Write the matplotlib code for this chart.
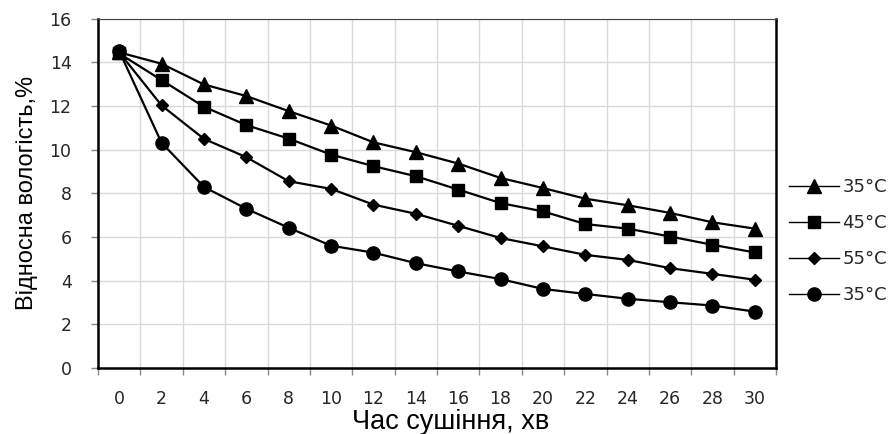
import matplotlib
matplotlib.use("Agg")
import matplotlib.pyplot as plt
import numpy as np

time_labels = ["0", "2", "4", "6", "8", "10", "12", "14", "16", "18", "20", "22", "24", "26", "28", "30"]
series_names = ["35°C", "45°C", "55°C", "35°C"]
s_tri = [14.45, 13.93, 12.98, 12.45, 11.76, 11.1, 10.33, 9.88, 9.36, 8.70, 8.24, 7.75, 7.45, 7.10, 6.67, 6.38]
s_sq = [14.4, 13.18, 11.96, 11.12, 10.5, 9.77, 9.24, 8.78, 8.17, 7.55, 7.17, 6.59, 6.38, 6.02, 5.64, 5.29]
s_dia = [14.45, 12.02, 10.49, 9.65, 8.55, 8.2, 7.48, 7.06, 6.51, 5.95, 5.57, 5.18, 4.95, 4.57, 4.31, 4.04]
s_circ = [14.51, 10.31, 8.29, 7.29, 6.42, 5.6, 5.28, 4.8, 4.42, 4.07, 3.62, 3.39, 3.17, 3.01, 2.86, 2.58]
y_ticks = [0, 2, 4, 6, 8, 10, 12, 14, 16]

W, H = 893, 434
fig = plt.figure(figsize=(W / 100, H / 100), dpi=100)
ax = fig.add_axes([98 / W, (H - 368) / H, 678 / W, 349.5 / H])

x = np.arange(len(time_labels))
styles = [("^", 9.5), ("s", 8), ("D", 6.5), ("o", 9.5)]
data = [s_tri, s_sq, s_dia, s_circ]
for vals, (m, ms), name in zip(data, styles, series_names):
    ax.plot(x, vals, color="black", lw=1.6, marker=m, markersize=ms,
            markerfacecolor="black", markeredgecolor="black", label=name)

ax.set_xlim(-0.5, len(time_labels) - 0.5)
ax.set_ylim(0, 16)
ax.set_yticks(y_ticks)
ax.set_xticks(x)
ax.set_xticklabels(time_labels)
ax.set_xticks(np.arange(-0.5, len(time_labels)), minor=True)

for lab in ax.get_xticklabels() + ax.get_yticklabels():
    lab.set_fontfamily("DejaVu Sans")
    lab.set_fontsize(12.5)
    lab.set_color("#262626")

ax.tick_params(axis="x", which="major", length=0, pad=16)
ax.tick_params(axis="x", which="minor", length=5, color="#888888", width=1)
ax.tick_params(axis="y", which="major", length=5, color="#888888", width=1, pad=14)

ax.grid(True, axis="y", which="major", color="#d9d9d9", lw=1)
ax.grid(True, axis="x", which="minor", color="#d9d9d9", lw=1)
ax.set_axisbelow(True)

for side in ["left", "bottom", "right"]:
    ax.spines[side].set_color("black")
    ax.spines[side].set_linewidth(1.8)
ax.spines["top"].set_color("#404040")
ax.spines["top"].set_linewidth(0.8)

ax.set_xlabel("Час сушіння, хв", family="Liberation Sans", fontsize=19.5, color="black", labelpad=0)
ax.xaxis.label.set_verticalalignment("center")
ax.xaxis.set_label_coords(451 / W, 1 - 422 / H, transform=fig.transFigure)
ax.set_ylabel("Відносна вологість,%", family="Liberation Sans", fontsize=17, color="black", labelpad=8)

leg = fig.legend(loc="upper left", bbox_to_anchor=(782 / W, 1 - 171 / H), frameon=False,
                 prop=dict(family="DejaVu Sans", size=13), handlelength=2.75,
                 handletextpad=0.2, labelspacing=1.0, borderaxespad=0)
for t in leg.get_texts():
    t.set_color("#262626")
for h in leg.legend_handles:
    h.set_linewidth(1.0)

fig.savefig("out.png", dpi=100)
